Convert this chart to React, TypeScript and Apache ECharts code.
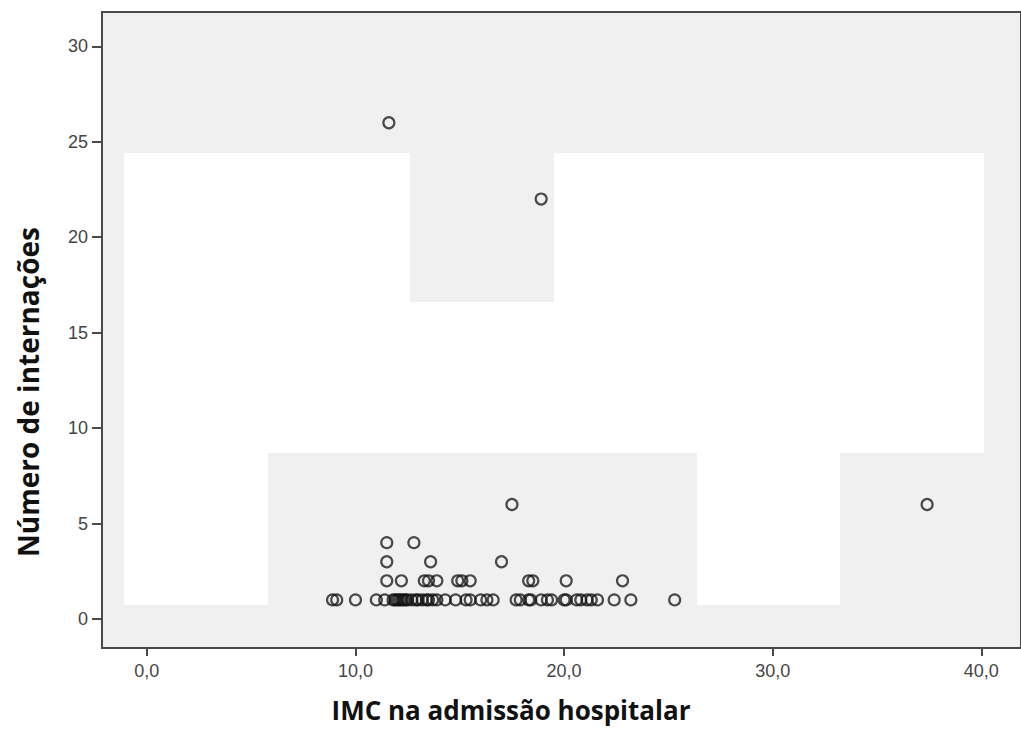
import React, { useEffect, useRef } from "react";
import * as echarts from "echarts";

// IMC na admissão hospitalar (x) and Número de internações (y)
const imc: number[] = [
  11.6, 18.9,
  17.5, 37.4,
  11.5, 12.8,
  11.5, 13.6, 17.0,
  11.5, 12.2, 13.3, 13.5, 13.9, 14.9, 15.1, 15.5, 18.3, 18.5, 20.1, 22.8,
  8.9, 9.1, 10.0, 11.0, 11.4, 11.8, 11.9, 12.0, 12.1, 12.2, 12.3, 12.4, 12.5,
  12.7, 12.9, 13.0, 13.2, 13.4, 13.5, 13.7, 13.9, 14.3, 14.8, 15.3, 15.5,
  16.0, 16.3, 16.6, 17.7, 17.9, 18.3, 18.4, 18.9, 19.2, 19.4, 20.0, 20.1,
  20.6, 20.8, 21.1, 21.3, 21.6, 22.4, 23.2, 25.3,
];
const internacoes: number[] = [
  26, 22,
  6, 6,
  4, 4,
  3, 3, 3,
  2, 2, 2, 2, 2, 2, 2, 2, 2, 2, 2, 2,
  1, 1, 1, 1, 1, 1, 1, 1, 1, 1, 1, 1, 1,
  1, 1, 1, 1, 1, 1, 1, 1, 1, 1, 1, 1,
  1, 1, 1, 1, 1, 1, 1, 1, 1, 1, 1, 1,
  1, 1, 1, 1, 1, 1, 1, 1,
];
const xTicks: number[] = [0, 10, 20, 30, 40];
const yTicks: number[] = [0, 5, 10, 15, 20, 25, 30];
const xTitle = "IMC na admissão hospitalar";
const yTitle = "Número de internações";

// white background artifacts of the reference picture (pixel boxes)
const whiteBoxes: number[][] = [
  [124, 153, 286, 300],
  [410, 302, 144, 151],
  [554, 153, 430, 300],
  [124, 453, 144, 152],
  [697, 453, 143, 152],
];

export default function App() {
  const ref = useRef<HTMLDivElement>(null);
  useEffect(() => {
    if (!ref.current) return;
    const chart = echarts.init(ref.current, undefined, { renderer: "svg" });
    const points = imc.map((x, i) => [x, internacoes[i]]);
    const axisFont = {
      fontFamily: "'Liberation Sans', Arial, sans-serif",
      fontSize: 18,
      color: "#444",
    };
    chart.setOption({
      animation: false,
      backgroundColor: "#ffffff",
      grid: {
        left: 102,
        top: 12,
        right: -4,
        bottom: 98,
        show: true,
        backgroundColor: "#f0f0f0",
        borderColor: "#4a4a4a",
        borderWidth: 2,
      },
      xAxis: {
        type: "value",
        min: -2.15,
        max: 41.9,
        splitLine: { show: false },
        axisLine: { show: true, onZero: false, lineStyle: { color: "#4a4a4a", width: 2 } },
        axisTick: {
          show: true,
          length: 8,
          customValues: xTicks,
          lineStyle: { color: "#4a4a4a", width: 2 },
        },
        axisLabel: {
          ...axisFont,
          margin: 14,
          customValues: xTicks,
          formatter: (v: number) => v.toFixed(1).replace(".", ","),
        },
      },
      yAxis: {
        type: "value",
        min: -1.52,
        max: 31.8,
        splitLine: { show: false },
        axisLine: { show: true, onZero: false, lineStyle: { color: "#4a4a4a", width: 2 } },
        axisTick: {
          show: true,
          length: 10,
          customValues: yTicks,
          lineStyle: { color: "#4a4a4a", width: 2 },
        },
        axisLabel: {
          ...axisFont,
          margin: 14,
          customValues: yTicks,
        },
      },
      graphic: [
        ...whiteBoxes.map((b) => ({
          type: "rect",
          z: 1,
          silent: true,
          shape: { x: b[0], y: b[1], width: b[2], height: b[3] },
          style: { fill: "#ffffff" },
        })),
        {
          type: "text",
          x: 511,
          y: 710,
          style: {
            text: xTitle,
            fontFamily: "'Open Sans', sans-serif",
            fontWeight: "bold",
            fontSize: 26,
            fill: "#111",
            align: "center",
            verticalAlign: "middle",
          },
        },
        {
          type: "text",
          x: 28,
          y: 392,
          rotation: Math.PI / 2,
          style: {
            text: yTitle,
            fontFamily: "'Open Sans', sans-serif",
            fontWeight: "bold",
            fontSize: 28,
            fill: "#111",
            align: "center",
            verticalAlign: "middle",
          },
        },
      ],
      series: [
        {
          type: "scatter",
          z: 3,
          data: points,
          symbol: "circle",
          symbolSize: 11,
          itemStyle: {
            color: "rgba(0,0,0,0)",
            borderColor: "#111",
            borderWidth: 2.2,
            opacity: 0.75,
          },
        },
      ],
    });
    return () => chart.dispose();
  }, []);
  return (
    <div
      ref={ref}
      style={{ position: "fixed", left: 0, top: 0, width: 1021, height: 746 }}
    />
  );
}
